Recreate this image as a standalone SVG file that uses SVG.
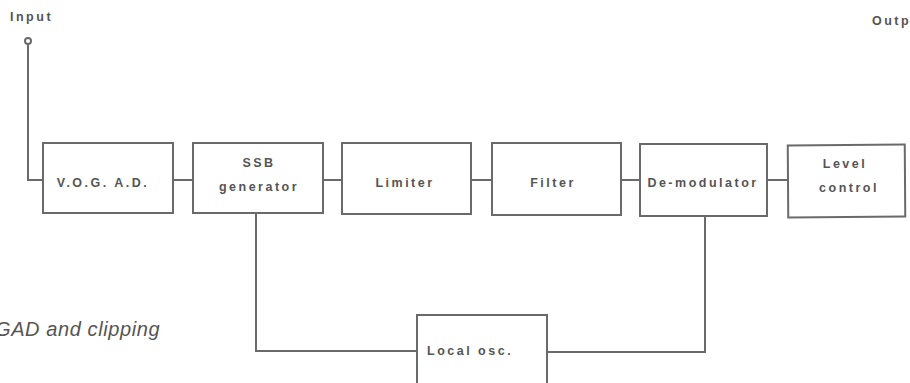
<svg xmlns="http://www.w3.org/2000/svg" width="910" height="383" viewBox="0 0 910 383">
<style>
.box{fill:#fff;stroke:#6a6a6a;stroke-width:2}
.w{fill:none;stroke:#6a6a6a;stroke-width:2}
.t{font-family:"Liberation Sans",Arial,sans-serif;font-weight:bold;font-size:12.5px;fill:#555;letter-spacing:2.5px;text-anchor:middle}
.cap{font-family:"Liberation Sans",Arial,sans-serif;font-style:italic;font-size:20px;fill:#555;letter-spacing:0.6px}
</style>
<rect width="910" height="383" fill="#fff"/>
<g id="connectors">
<circle cx="28" cy="41" r="3" class="w"/>
<polyline class="w" points="28,44 28,180 43,180"/>
<line class="w" x1="173" y1="180" x2="193" y2="180"/>
<line class="w" x1="323" y1="180" x2="342" y2="180"/>
<line class="w" x1="471" y1="180" x2="492" y2="180"/>
<line class="w" x1="621" y1="180" x2="640" y2="180"/>
<line class="w" x1="767" y1="180" x2="788" y2="180"/>
<polyline class="w" points="256,213 256,351 417,351"/>
<polyline class="w" points="705,216 705,352 547,352"/>
</g>
<g id="input"><text class="t" x="10" y="21" style="text-anchor:start">Input</text></g>
<g id="output"><text class="t" x="872" y="25" style="text-anchor:start">Outp</text></g>
<g id="vogad"><rect class="box" x="43" y="143" width="130" height="70"/><text class="t" x="103" y="187">V.O.G. A.D.</text></g>
<g id="ssb"><rect class="box" x="193" y="143" width="130" height="70"/><text class="t" x="259" y="167">SSB</text><text class="t" x="259" y="191">generator</text></g>
<g id="limiter"><rect class="box" x="342" y="143" width="129" height="71"/><text class="t" x="405" y="187">Limiter</text></g>
<g id="filter"><rect class="box" x="492" y="143" width="129" height="72"/><text class="t" x="553" y="187">Filter</text></g>
<g id="demod"><rect class="box" x="640" y="144" width="127" height="72"/><text class="t" x="703" y="187">De-modulator</text></g>
<g id="level"><rect class="box" x="788" y="145" width="117" height="72" transform="rotate(-0.4 846 181)"/><text class="t" x="845" y="168">Level</text><text class="t" x="849" y="192">control</text></g>
<g id="localosc"><rect class="box" x="417" y="315" width="130" height="80"/><text class="t" x="427" y="355" style="text-anchor:start">Local osc.</text></g>
<text class="cap" x="-5" y="336">GAD and clipping</text>
</svg>
